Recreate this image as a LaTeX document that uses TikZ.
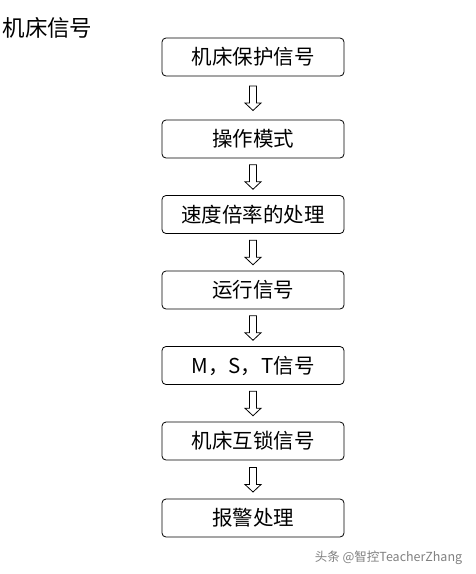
\documentclass[tikz,border=0pt]{standalone}
\usepackage{fontspec}
\newfontfamily\cjk{Noto Sans CJK SC}
\usetikzlibrary{calc}
\begin{document}
\begin{tikzpicture}
  [x=1pt,y=-1pt,every node/.style={inner sep=0pt},
   stage/.style={draw,line width=.8pt,rounded corners=4pt,minimum width=182pt,minimum height=38pt,font=\cjk\fontsize{20.5}{24}\selectfont}]
  \useasboundingbox (0,0) rectangle (476,574);
  \node (title)[font=\cjk\fontsize{22.5}{26}\selectfont] at (47.5,28) {机床信号};
  \node (s1)[stage] at (253,57) {机床保护信号};
  \node (s2)[stage] at (253,139) {操作模式};
  \node (s3)[stage] at (253,214.5) {速度倍率的处理};
  \node (s4)[stage] at (253,290) {运行信号};
  \node (s5)[stage] at (253,365.5) {M，S，T信号};
  \node (s6)[stage] at (253,441) {机床互锁信号};
  \node (s7)[stage] at (253,518) {报警处理};
  \node (mark)[text=gray,font=\cjk\fontsize{12.5}{14}\selectfont] at (388.5,558) {头条 @智控TeacherZhang};
 \foreach \from/\to in {s1/s2,s2/s3,s3/s4,s4/s5,s5/s6,s6/s7}
    \draw[line width=.8pt,line join=miter] ($(\from.south)!.5!(\to.north)$) +(-3.5,-12) -- +(3.5,-12) -- +(3.5,5) -- +(8,5) -- +(0,12.5) -- +(-8,5) -- +(-3.5,5) -- cycle;
\end{tikzpicture}
\end{document}
